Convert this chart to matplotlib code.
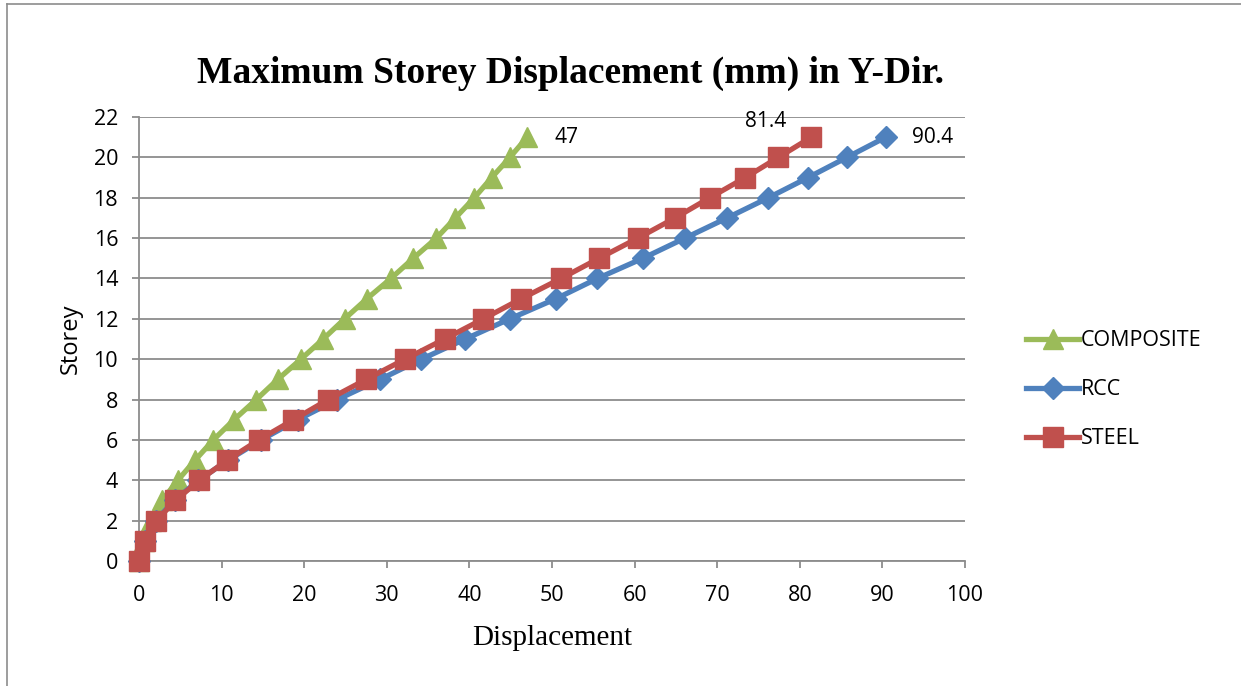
import matplotlib
matplotlib.use("Agg")
import matplotlib.pyplot as plt
from matplotlib.lines import Line2D

# storey numbers and displacement (mm)
storeys = list(range(0, 22))
composite = [0, 0.6, 1.5, 2.8, 4.7, 6.8, 9.0, 11.5, 14.2, 16.8, 19.6,
             22.3, 24.9, 27.6, 30.5, 33.2, 36.0, 38.3, 40.6, 42.7, 44.9, 47.0]
rcc = [0, 0.7, 2.0, 4.3, 7.2, 10.8, 14.8, 19.2, 24.0, 29.2, 34.2,
       39.5, 44.9, 50.5, 55.5, 61.0, 66.1, 71.2, 76.2, 81.0, 85.7, 90.4]
steel = [0, 0.7, 2.1, 4.4, 7.3, 10.7, 14.5, 18.7, 22.9, 27.5, 32.2,
         37.0, 41.7, 46.3, 51.1, 55.7, 60.4, 64.9, 69.1, 73.4, 77.4, 81.4]
end_labels = ["47", "90.4", "81.4"]

GREEN = "#9BBB59"
BLUE = "#4F81BD"
RED = "#C0504D"
SANS = "Open Sans"
SERIF = "Liberation Serif"

fig = plt.figure(figsize=(12.41, 6.86), dpi=100)
ax = fig.add_axes([0.112, 0.1822, 0.6656, 0.6472])

# outer frame of the chart area
fig.add_artist(Line2D([7 / 1241, 7 / 1241], [0, 1 - 4 / 686], transform=fig.transFigure,
                      color="#8c8c8c", lw=1.2))
fig.add_artist(Line2D([7 / 1241, 1], [1 - 4 / 686, 1 - 4 / 686], transform=fig.transFigure,
                      color="#8c8c8c", lw=1.2))

ax.plot(composite, storeys, color=GREEN, lw=3.8, marker="^", markersize=15,
        label="COMPOSITE", zorder=3, clip_on=False)
ax.plot(rcc, storeys, color=BLUE, lw=3.8, marker="D", markersize=11,
        label="RCC", zorder=4, clip_on=False)
ax.plot(steel, storeys, color=RED, lw=3.8, marker="s", markersize=14,
        label="STEEL", zorder=5, clip_on=False)

# end value labels
ax.annotate(end_labels[0], (composite[-1], storeys[-1]), xytext=(20, 0),
            textcoords="offset points", fontsize=15, family=SANS, va="center")
ax.annotate(end_labels[1], (rcc[-1], storeys[-1]), xytext=(19, 0),
            textcoords="offset points", fontsize=15, family=SANS, va="center")
ax.annotate(end_labels[2], (steel[-1], storeys[-1]), xytext=(-48, 11),
            textcoords="offset points", fontsize=15, family=SANS, va="center")

ax.set_xlim(0, 100)
ax.set_ylim(0, 22)
ax.set_xticks(range(0, 101, 10))
ax.set_yticks(range(0, 23, 2))
ax.grid(axis="y", color="#8c8c8c", lw=1.3)
ax.set_axisbelow(True)
for side in ["top", "right"]:
    ax.spines[side].set_visible(False)
for side in ["left", "bottom"]:
    ax.spines[side].set_color("#8c8c8c")
    ax.spines[side].set_linewidth(1.3)
ax.tick_params(axis="both", colors="#8c8c8c", labelcolor="black", labelsize=15.5,
               length=5, width=1.3)
ax.tick_params(axis="x", pad=12)
ax.tick_params(axis="y", pad=10)
for lbl in ax.get_xticklabels() + ax.get_yticklabels():
    lbl.set_family(SANS)

ax.set_xlabel("Displacement", family=SERIF, fontsize=21, labelpad=14)
ax.set_ylabel("Storey", family=SANS, fontsize=17, labelpad=8)
fig.text(0.46, 0.893, "Maximum Storey Displacement (mm) in Y-Dir.", family=SERIF,
         fontsize=27, fontweight="bold", ha="center", va="center")

leg = ax.legend(loc="center left", bbox_to_anchor=(1.063, 0.386), frameon=False,
                prop={"family": SANS, "size": 15.5}, handlelength=2.5,
                handletextpad=0.05, labelspacing=1.3, borderaxespad=0)

fig.savefig("out.png", dpi=100)
